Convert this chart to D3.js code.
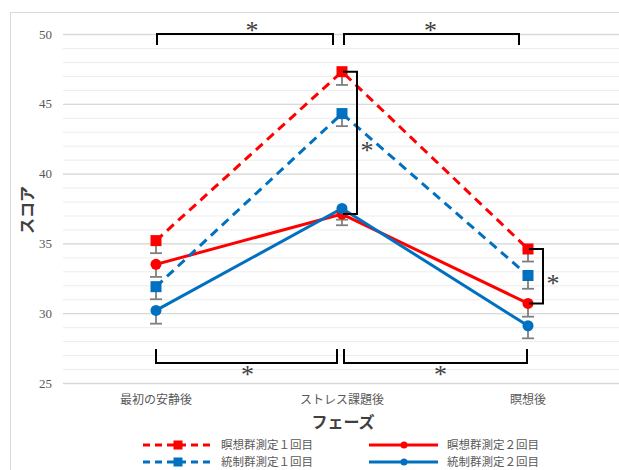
<!DOCTYPE html>
<html><head><meta charset="utf-8">
<script src="https://cdn.jsdelivr.net/npm/d3@7"></script>
<style>
html,body{margin:0;padding:0;background:#fff;}
svg{display:block;}
</style></head>
<body>
<svg id="c" width="619" height="470"></svg>
<script>
const categories = ["最初の安静後", "ストレス課題後", "瞑想後"];
const seriesNames = ["瞑想群測定１回目", "瞑想群測定２回目", "統制群測定１回目", "統制群測定２回目"];
const medit1 = [35.2, 47.3, 34.6];
const medit2 = [33.5, 37.1, 30.7];
const control1 = [31.9, 44.3, 32.7];
const control2 = [30.2, 37.5, 29.1];
const err_medit1 = [0.9, 0.95, 0.9];
const err_medit2 = [0.9, 0.8, 0.95];
const err_control1 = [0.9, 0.9, 0.95];
const err_control2 = [0.95, 0.8, 0.9];
const yTicks = [25, 30, 35, 40, 45, 50];
const yTitle = "スコア";
const xTitle = "フェーズ";
// significance brackets between phases (category indices) and within a phase (values)
const sigTop = [[0, 1], [1, 2]];
const sigBottom = [[0, 1], [1, 2]];
const sigWithin = [{cat: 1, from: 47.3, to: 37.1}, {cat: 2, from: 34.6, to: 30.7}];

const RED = "#ff0000", BLUE = "#0070c0";
const series = [
  {name: seriesNames[0], values: medit1, err: err_medit1, color: RED, dashed: true, marker: "square"},
  {name: seriesNames[1], values: medit2, err: err_medit2, color: RED, dashed: false, marker: "circle"},
  {name: seriesNames[2], values: control1, err: err_control1, color: BLUE, dashed: true, marker: "square"},
  {name: seriesNames[3], values: control2, err: err_control2, color: BLUE, dashed: false, marker: "circle"}
];

const svg = d3.select("#c");
// chart border
svg.append("rect").attr("x", 10.5).attr("y", 12.5).attr("width", 640).attr("height", 480)
  .attr("fill", "none").attr("stroke", "#d9d9d9").attr("stroke-width", 1);

const plot = {left: 63, right: 621, top: 34, bottom: 383};
const x = d3.scaleBand().domain(categories).range([plot.left, plot.right]);
const cx = i => x(categories[i]) + x.bandwidth() / 2;
const y = d3.scaleLinear().domain([25, 50]).range([plot.bottom, plot.top]);

// minor grid
svg.append("g").attr("transform", `translate(${plot.left},0)`)
  .call(d3.axisLeft(y).tickValues(d3.range(25, 51, 1)).tickSize(-(plot.right - plot.left)).tickFormat(""))
  .call(g => g.select(".domain").remove())
  .call(g => g.selectAll("line").attr("stroke", "#ececec").attr("stroke-width", 1));
// major grid
svg.append("g").attr("transform", `translate(${plot.left},0)`)
  .call(d3.axisLeft(y).tickValues(yTicks).tickSize(-(plot.right - plot.left)).tickFormat(""))
  .call(g => g.select(".domain").remove())
  .call(g => g.selectAll("line").attr("stroke", "#d9d9d9").attr("stroke-width", 1.3));

// y labels
svg.append("g").attr("transform", `translate(${plot.left},0)`)
  .call(d3.axisLeft(y).tickValues(yTicks).tickSize(0).tickPadding(11))
  .call(g => g.select(".domain").remove())
  .call(g => g.selectAll("text").attr("fill", "#595959").attr("font-family", "Liberation Serif, serif").attr("font-size", 13));

// x labels
svg.append("g").attr("transform", `translate(0,${plot.bottom})`)
  .call(d3.axisBottom(x).tickSize(0).tickPadding(12))
  .call(g => g.select(".domain").remove())
  .call(g => g.selectAll("text").attr("fill", "#595959").attr("font-family", "Noto Sans CJK JP, sans-serif").attr("font-size", 12));

// axis titles
svg.append("text").attr("transform", "translate(33,210) rotate(-90)").attr("text-anchor", "middle")
  .attr("font-family", "Noto Sans CJK JP, sans-serif").attr("font-weight", "bold").attr("font-size", 16).attr("fill", "#404040").text(yTitle);
svg.append("text").attr("x", (plot.left + plot.right) / 2 + 1).attr("y", 428).attr("text-anchor", "middle")
  .attr("font-family", "Noto Sans CJK JP, sans-serif").attr("font-weight", "bold").attr("font-size", 16).attr("fill", "#404040").text(xTitle);

// lines
const line = d3.line().x((d, i) => cx(i)).y(d => y(d));
series.forEach(s => {
  svg.append("path").attr("d", line(s.values)).attr("fill", "none").attr("stroke", s.color)
    .attr("stroke-width", 3).attr("stroke-dasharray", s.dashed ? "9,6" : null);
});
// error bars (minus)
series.forEach(s => {
  s.values.forEach((v, i) => {
    const g = svg.append("g").attr("stroke", "#7f7f7f").attr("stroke-width", 1.8);
    g.append("line").attr("x1", cx(i)).attr("x2", cx(i)).attr("y1", y(v)).attr("y2", y(v - s.err[i]));
    g.append("line").attr("x1", cx(i) - 6).attr("x2", cx(i) + 6).attr("y1", y(v - s.err[i])).attr("y2", y(v - s.err[i]));
  });
});
// markers
function marker(sel, type, px, py, color, size) {
  if (type === "square") sel.append("rect").attr("x", px - size / 2).attr("y", py - size / 2).attr("width", size).attr("height", size).attr("fill", color);
  else sel.append("circle").attr("cx", px).attr("cy", py).attr("r", size / 2).attr("fill", color);
}
series.forEach(s => s.values.forEach((v, i) => marker(svg, s.marker, cx(i), y(v), s.color, 11)));

// significance brackets
const bk = svg.append("g").attr("fill", "none").attr("stroke", "#000").attr("stroke-width", 2);
const star = (px, py) => svg.append("text").attr("x", px).attr("y", py + 11).attr("text-anchor", "middle")
  .attr("font-family", "Liberation Serif, serif").attr("font-size", 26).attr("fill", "#404040").text("*");
sigTop.forEach(([a, b], k) => {
  const x1 = cx(a) + (k === 0 ? 1 : 2), x2 = cx(b) - 9, yy = y(50);
  bk.append("path").attr("d", `M${x1},${yy + 11}V${yy}H${x2}V${yy + 11}`);
  star((x1 + x2) / 2 + (k === 0 ? 7 : -1), yy - 6);
});
sigBottom.forEach(([a, b], k) => {
  const x1 = cx(a) + (k === 0 ? 0 : 2), x2 = cx(b) - (k === 0 ? 5 : 1), yy = y(25) - 20;
  bk.append("path").attr("d", `M${x1},${yy - 14}V${yy}H${x2}V${yy - 14}`);
  star((x1 + x2) / 2 + (k === 0 ? 1 : 5), yy + 9);
});
sigWithin.forEach(s => {
  const x1 = cx(s.cat) + 1, x2 = cx(s.cat) + 15, y1 = y(s.from), y2 = y(s.to);
  bk.append("path").attr("d", `M${x1},${y1}H${x2}V${y2}H${x1}`);
  star(x2 + 10, (y1 + y2) / 2 + 5);
});

// legend
const legendPos = [[143, 445], [369, 445], [143, 462], [369, 462]];
series.forEach((s, k) => {
  const [lx, ly] = legendPos[k];
  const g = svg.append("g");
  g.append("line").attr("x1", lx).attr("x2", lx + 69).attr("y1", ly).attr("y2", ly).attr("stroke", s.color)
    .attr("stroke-width", 3).attr("stroke-dasharray", s.dashed ? "7,5" : null);
  marker(g, s.marker, lx + 35, ly, s.color, s.marker === "square" ? 9 : 7);
  g.append("text").attr("x", lx + 78).attr("y", ly + 4.2).attr("font-family", "Noto Sans CJK JP, sans-serif")
    .attr("font-size", 11.5).attr("fill", "#595959").text(s.name);
});
</script>
</body></html>
